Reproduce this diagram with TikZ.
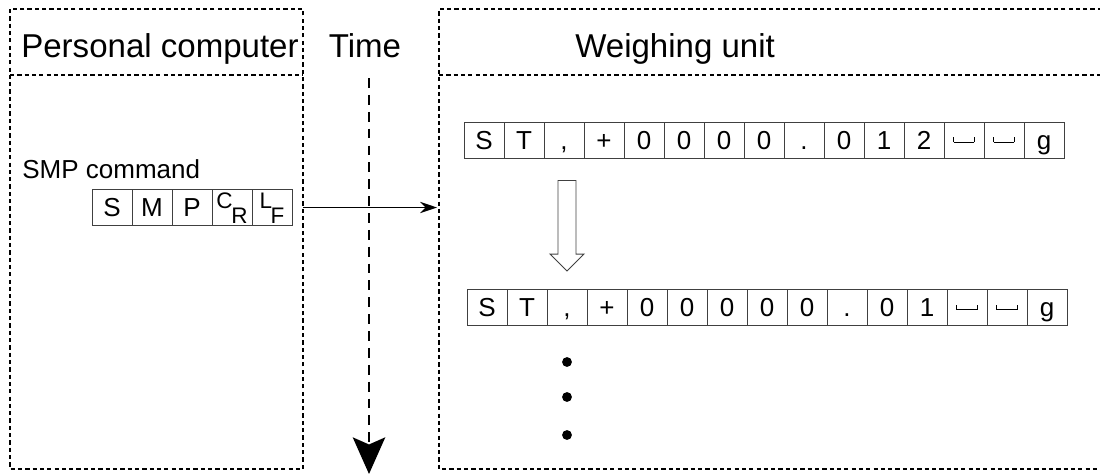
\documentclass[tikz,border=0pt]{standalone}
\usepackage{fontspec}
\setmainfont{Liberation Sans}
\usetikzlibrary{arrows.meta, calc}

\newcommand{\blank}{\raisebox{5pt}{\rule{0.5pt}{3.5pt}\rule{14pt}{0.5pt}\rule{0.5pt}{3.5pt}}}
\newcommand{\updown}[2]{{\fontsize{16}{18}\selectfont\raisebox{6pt}{#1}\kern-1pt\raisebox{-4.6pt}{#2}}}

\tikzset{
	frame/.style = {line width=2pt, dash pattern=on 3pt off 2.2pt},
	timeline/.style = {line width=1.8pt, dash pattern=on 7pt off 5pt, -{Stealth[length=26pt, width=23pt, inset=5pt]}},
	sendarrow/.style = {line width=1.1pt, -{Stealth[length=12pt, width=8pt]}},
	cell/.style = {draw=black!75, line width=0.6pt, minimum width=28.45pt, minimum height=25.6pt, inner sep=0pt, text height=13.25pt, text depth=0pt, font=\fontsize{18.5}{22}\selectfont},
	head/.style = {font=\fontsize{23.5}{28}\selectfont, inner sep=0pt},
	label/.style = {font=\fontsize{18.5}{22}\selectfont, inner sep=0pt},
	hollow/.style = {draw=black!75, line width=0.6pt},
	dot/.style = {circle, fill, inner sep=0pt, minimum size=7pt}
}

\begin{document}
\begin{tikzpicture}[x=0.025cm, y=-0.025cm]
	\useasboundingbox (0,0) rectangle (1100,475);

	\coordinate (pcR) at (303,0);
	\coordinate (wuL) at (439,0);

	\draw [frame] (10,9) rectangle (303,469);
	\draw [frame] (10,75) -- (303,75);
	\draw [frame] (1102,9) -- (439,9) -- (439,469) -- (1102,469);
	\draw [frame] (439,75) -- (1102,75);

	\node [head, anchor=base] (pc) at (160,57) {Personal computer};
	\node [head, anchor=base] (time) at (365,57) {Time};
	\node [head, anchor=base west] (wu) at (575,57) {Weighing unit};

	\coordinate (t0) at (369,78);
	\coordinate (t1) at (369,474);
	\draw [timeline] (t0) -- (t1);

	\node [label, anchor=base west] (smp) at (22,178) {SMP command};

	\foreach \ch [count=\i] in {S,M,P,\updown{C}{R},\updown{L}{F}}
	{
		\node [cell] (cm\i) at ({112+40*(\i-1)},207.5) {\ch};
	}

	\foreach \ch [count=\i] in {S,T,{,},+,0,0,0,0,.,0,1,2,\blank,\blank,g}
	{
		\node [cell] (wa\i) at ({484+40*(\i-1)},140) {\ch};
	}

	\foreach \ch [count=\i] in {S,T,{,},+,0,0,0,0,0,.,0,1,\blank,\blank,g}
	{
		\node [cell] (wb\i) at ({487+40*(\i-1)},307.5) {\ch};
	}

	\draw [sendarrow] (cm5.east -| pcR) -- ($(cm5.east -| wuL)+(-2,0)$);

	\coordinate (ha) at ($(wb3.center |- wa3.south)+(0,22)$);
	\coordinate (hb) at ($(wb3.north)+(0,-18)$);
	\draw [hollow] ($(ha)+(-9,0)$) -- ($(ha)+(9,0)$) -- ($(hb)+(9,-17)$) -- ($(hb)+(17,-17)$) -- (hb) -- ($(hb)+(-17,-17)$) -- ($(hb)+(-9,-17)$) -- cycle;

	\foreach \y [count=\i] in {362,397,435}
	{
		\node [dot] (d\i) at (567,\y) {};
	}
\end{tikzpicture}
\end{document}
